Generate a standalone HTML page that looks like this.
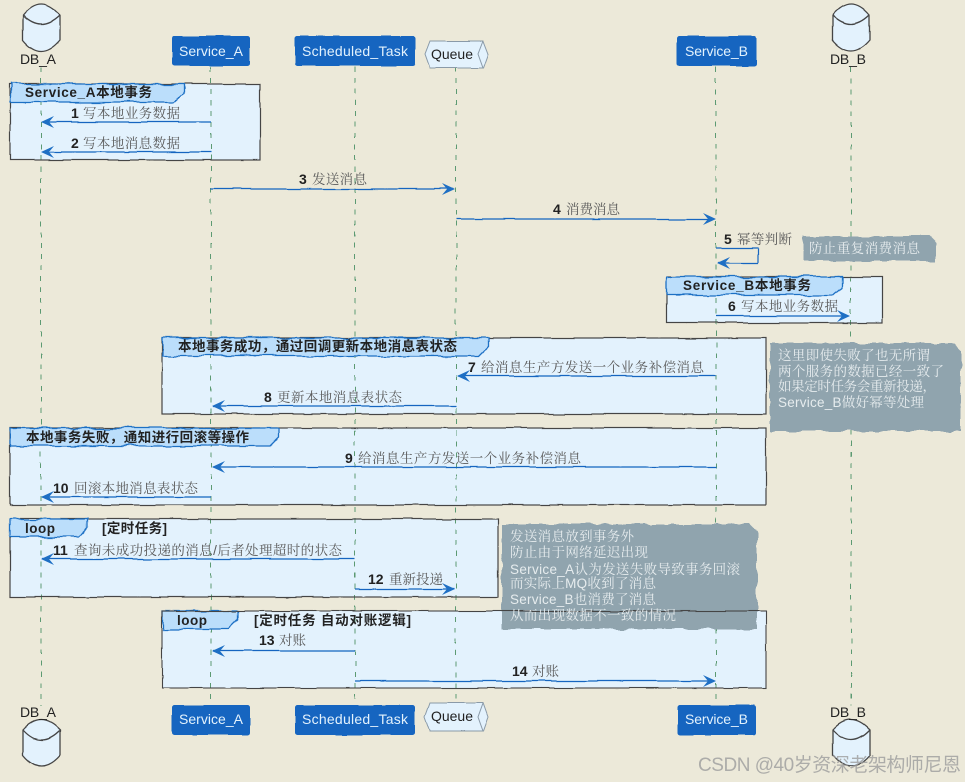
<!DOCTYPE html>
<html><head><meta charset="utf-8">
<style>
html,body{margin:0;padding:0;background:#ece9d9;width:965px;height:782px;overflow:hidden}
svg{display:block}
text{font-family:"Liberation Sans","Noto Serif CJK SC",serif}
.n{font-size:14px;font-weight:bold;fill:#222}
.l{font-size:13.5px;fill:#5a5a5a}
.t{font-size:13.5px;font-weight:bold;fill:#222;font-family:"Liberation Sans","Noto Sans CJK SC",sans-serif}
.w{font-size:13.5px;fill:#e6ecee}
.a{font-size:14px;fill:#e3f2fd}
.d{font-size:14px;fill:#222}
</style></head><body>
<svg width="965" height="782" viewBox="0 0 965 782" xmlns="http://www.w3.org/2000/svg">
<defs>
<filter id="r" filterUnits="userSpaceOnUse" x="0" y="0" width="965" height="782"><feTurbulence type="fractalNoise" baseFrequency="0.05" numOctaves="2" seed="4"/><feDisplacementMap in="SourceGraphic" scale="6" xChannelSelector="R" yChannelSelector="G"/></filter>
<filter id="s" filterUnits="userSpaceOnUse" x="0" y="0" width="965" height="782"><feTurbulence type="fractalNoise" baseFrequency="0.03" numOctaves="2" seed="9"/><feDisplacementMap in="SourceGraphic" scale="3" xChannelSelector="R" yChannelSelector="G"/></filter>
<filter id="j" filterUnits="userSpaceOnUse" x="0" y="0" width="965" height="782"><feTurbulence type="fractalNoise" baseFrequency="0.07" numOctaves="2" seed="12"/><feDisplacementMap in="SourceGraphic" scale="6" xChannelSelector="R" yChannelSelector="G"/></filter>
</defs>
<rect width="965" height="782" fill="#ece9d9"/>

<g filter="url(#s)" fill="#e3f2fd">
<rect x="10" y="84" width="250" height="76"/>
<rect x="667" y="277" width="215" height="46"/>
<rect x="162" y="338" width="604" height="76"/>
<rect x="10" y="428" width="756" height="77"/>
<rect x="10" y="519" width="488" height="78"/>
<rect x="162" y="611" width="604" height="77"/>
</g>

<g filter="url(#s)" stroke="#5c9a72" stroke-width="1" stroke-dasharray="5 6" fill="none">
<path d="M41 67V706M211 67V706M355 67V706M456 67V704M716 67V706M851 67V706"/>
</g>

<g filter="url(#s)" fill="none" stroke="#444" stroke-width="1.2">
<rect x="10" y="84" width="250" height="76"/>
<rect x="667" y="277" width="215" height="46"/>
<rect x="162" y="338" width="604" height="76"/>
<rect x="10" y="428" width="756" height="77"/>
<rect x="10" y="519" width="488" height="78"/>
</g>

<g filter="url(#r)" fill="#bbdefb" stroke="#1e6fc4" stroke-width="1.3">
<path d="M10 84H183V94L174 102H10Z"/>
<path d="M667 277H842V287L833 295H667Z"/>
<path d="M162 338H488V347L479 356H162Z"/>
<path d="M10 428H279V437L270 446H10Z"/>
<path d="M10 519H87V528L78 537H10Z"/>
<path d="M162 611H238V620L229 629H162Z"/>
</g>

<g filter="url(#s)" stroke="#1565c0" stroke-width="1.2" fill="none">
<path d="M211 122H42M211 152H42M211 189H454M456 219H715M716 248H758V263H718M716 316H849M716 376H458M456 406H213M716 467H213M211 497H42M355 559H42M355 589H454M355 651H213M355 681H715"/>
</g>
<g fill="#1e6fc4">
<path d="M41 122L54 116L49 122L54 128Z"/><path d="M41 152L54 146L49 152L54 158Z"/>
<path d="M455 189L442 183L447 189L442 195Z"/><path d="M716 219L703 213L708 219L703 225Z"/>
<path d="M717 263L730 257L725 263L730 269Z"/><path d="M850 316L837 310L842 316L837 322Z"/>
<path d="M457 376L470 370L465 376L470 382Z"/><path d="M212 406L225 400L220 406L225 412Z"/>
<path d="M212 467L225 461L220 467L225 473Z"/><path d="M41 497L54 491L49 497L54 503Z"/>
<path d="M41 559L54 553L49 559L54 565Z"/><path d="M455 589L442 583L447 589L442 595Z"/>
<path d="M212 651L225 645L220 651L225 657Z"/><path d="M716 681L703 675L708 681L703 687Z"/>
</g>

<g filter="url(#j)" fill="#90a4ae">
<path d="M803 236H930L937 243V261H803Z"/>
<path d="M770 343H954L961 350V431H770Z"/>
<path d="M502 524H750L757 531V629H502Z"/>
</g>
<rect x="162" y="611" width="604" height="77" fill="none" stroke="#444" stroke-width="1.1" filter="url(#s)"/>

<!-- participants -->
<g filter="url(#s)" fill="#1565c0" stroke="#1565c0">
<rect x="172.500" y="36.500" width="77" height="29" rx="2"/>
<rect x="295.500" y="36.500" width="119" height="29" rx="2"/>
<rect x="677.500" y="36.500" width="78" height="29" rx="2"/>
<rect x="172.500" y="705.500" width="77" height="29" rx="2"/>
<rect x="295.500" y="705.500" width="119" height="29" rx="2"/>
<rect x="677.500" y="705.500" width="78" height="29" rx="2"/>
</g>
<g filter="url(#s)" fill="#e3f2fd" stroke="#8a9aa8" stroke-width="1">
<path d="M430 41H483L488 54L483 68H430L425 54Z"/>
<path d="M430 703H483L488 717L483 731H430L425 717Z"/>
</g>
<g fill="none" stroke="#8a9aa8" stroke-width="1"><path d="M483 41L478 54L483 68M483 703L478 717L483 731"/></g>

<g filter="url(#s)" fill="#e3f2fd" stroke="#444" stroke-width="1.3">
<path d="M23 15Q41 -7 60 15V40Q41 62 23 40Z"/><path d="M23 15Q41 33 60 15" fill="none"/>
<path d="M832.500 15Q851 -7 869.500 15V40Q851 62 832.500 40Z"/><path d="M832.500 15Q851 33 869.500 15" fill="none"/>
<path d="M23 730Q41 710 60 730V755Q41 777 23 755Z"/><path d="M23 730Q41 750 60 730" fill="none"/>
<path d="M833 730Q851 710 870 730V755Q851 777 833 755Z"/><path d="M833 730Q851 750 870 730" fill="none"/>
</g>

<text class="d" x="20" y="64" textLength="36">DB_A</text>
<text class="d" x="830" y="64" textLength="36">DB_B</text>
<text class="a" x="179" y="56" textLength="64">Service_A</text>
<text class="a" x="302" y="56" textLength="106">Scheduled_Task</text>
<text class="d" x="431" y="59" textLength="42">Queue</text>
<text class="a" x="685" y="56" textLength="63">Service_B</text>
<text class="d" x="20" y="717" textLength="36">DB_A</text>
<text class="d" x="830" y="717" textLength="36">DB_B</text>
<text class="a" x="179" y="724" textLength="64">Service_A</text>
<text class="a" x="302" y="724" textLength="106">Scheduled_Task</text>
<text class="d" x="431" y="721" textLength="42">Queue</text>
<text class="a" x="685" y="724" textLength="63">Service_B</text>

<text class="t" x="25" y="97" textLength="127">Service_A本地事务</text>
<text class="t" x="683" y="290" textLength="128">Service_B本地事务</text>
<text class="t" x="178" y="351" textLength="279">本地事务成功，通过回调更新本地消息表状态</text>
<text class="t" x="26" y="442" textLength="223">本地事务失败，通知进行回滚等操作</text>
<text class="t" x="25" y="533" textLength="30">loop</text>
<text class="t" x="102" y="533" textLength="65">[定时任务]</text>
<text class="t" x="177" y="625" textLength="30">loop</text>
<text class="t" x="254" y="625" textLength="157">[定时任务 自动对账逻辑]</text>

<text class="n" x="71" y="118">1</text><text class="l" x="83" y="118" textLength="97">写本地业务数据</text>
<text class="n" x="71" y="148">2</text><text class="l" x="83" y="148" textLength="97">写本地消息数据</text>
<text class="n" x="299" y="184">3</text><text class="l" x="312" y="184" textLength="55">发送消息</text>
<text class="n" x="553" y="214">4</text><text class="l" x="566" y="214" textLength="54">消费消息</text>
<text class="n" x="724" y="244">5</text><text class="l" x="737" y="244" textLength="55">幂等判断</text>
<text class="n" x="728" y="311">6</text><text class="l" x="741" y="311" textLength="97">写本地业务数据</text>
<text class="n" x="468" y="372">7</text><text class="l" x="481" y="372" textLength="223">给消息生产方发送一个业务补偿消息</text>
<text class="n" x="264" y="402">8</text><text class="l" x="277" y="402" textLength="125">更新本地消息表状态</text>
<text class="n" x="345" y="463">9</text><text class="l" x="358" y="463" textLength="223">给消息生产方发送一个业务补偿消息</text>
<text class="n" x="53" y="493">10</text><text class="l" x="74" y="493" textLength="124">回滚本地消息表状态</text>
<text class="n" x="53" y="555">11</text><text class="l" x="74" y="555" textLength="268">查询未成功投递的消息/后者处理超时的状态</text>
<text class="n" x="368" y="584">12</text><text class="l" x="389" y="584" textLength="54">重新投递</text>
<text class="n" x="259" y="645">13</text><text class="l" x="279" y="645" textLength="27">对账</text>
<text class="n" x="512" y="676">14</text><text class="l" x="532" y="676" textLength="27">对账</text>

<text class="w" x="809" y="253" textLength="111">防止重复消费消息</text>
<text class="w" x="778" y="360" textLength="152">这里即使失败了也无所谓</text>
<text class="w" x="778" y="376" textLength="166">两个服务的数据已经一致了</text>
<text class="w" x="778" y="391" textLength="158">如果定时任务会重新投递，</text>
<text class="w" x="778" y="407" textLength="146">Service_B做好幂等处理</text>
<text class="w" x="510" y="541" textLength="124">发送消息放到事务外</text>
<text class="w" x="510" y="557" textLength="138">防止由于网络延迟出现</text>
<text class="w" x="510" y="574" textLength="230">Service_A认为发送失败导致事务回滚</text>
<text class="w" x="510" y="588" textLength="146">而实际上MQ收到了消息</text>
<text class="w" x="510" y="604" textLength="146">Service_B也消费了消息</text>
<text class="w" x="510" y="620" textLength="166">从而出现数据不一致的情况</text>

<text x="698" y="771" textLength="263" style="font-size:19px;fill:#9c9c9c;fill-opacity:.8;font-family:'Liberation Sans','Noto Sans CJK SC',sans-serif">CSDN @40岁资深老架构师尼恩</text>
</svg>
</body></html>
